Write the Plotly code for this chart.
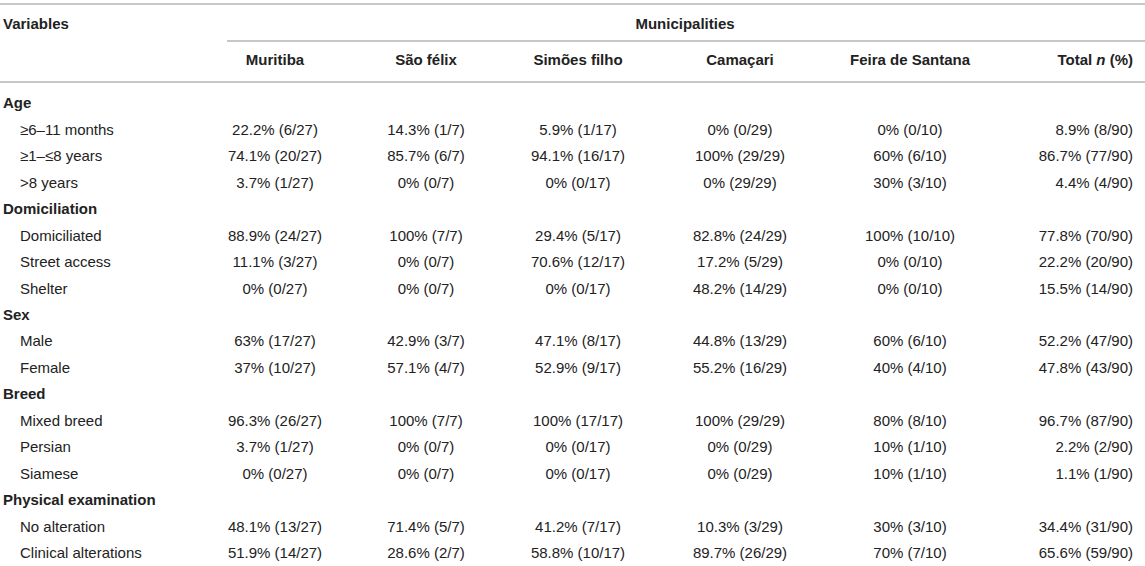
import plotly.graph_objects as go

# table contents
row_labels = ["Age", "≥6–11 months", "≥1–≤8 years", ">8 years",
              "Domiciliation", "Domiciliated", "Street access", "Shelter",
              "Sex", "Male", "Female",
              "Breed", "Mixed breed", "Persian", "Siamese",
              "Physical examination", "No alteration", "Clinical alterations"]
group_rows = ["Age", "Domiciliation", "Sex", "Breed", "Physical examination"]

municipalities = ["Muritiba", "São félix", "Simões filho", "Camaçari",
                  "Feira de Santana"]

muritiba = ["", "22.2% (6/27)", "74.1% (20/27)", "3.7% (1/27)",
            "", "88.9% (24/27)", "11.1% (3/27)", "0% (0/27)",
            "", "63% (17/27)", "37% (10/27)",
            "", "96.3% (26/27)", "3.7% (1/27)", "0% (0/27)",
            "", "48.1% (13/27)", "51.9% (14/27)"]
sao_felix = ["", "14.3% (1/7)", "85.7% (6/7)", "0% (0/7)",
             "", "100% (7/7)", "0% (0/7)", "0% (0/7)",
             "", "42.9% (3/7)", "57.1% (4/7)",
             "", "100% (7/7)", "0% (0/7)", "0% (0/7)",
             "", "71.4% (5/7)", "28.6% (2/7)"]
simoes_filho = ["", "5.9% (1/17)", "94.1% (16/17)", "0% (0/17)",
                "", "29.4% (5/17)", "70.6% (12/17)", "0% (0/17)",
                "", "47.1% (8/17)", "52.9% (9/17)",
                "", "100% (17/17)", "0% (0/17)", "0% (0/17)",
                "", "41.2% (7/17)", "58.8% (10/17)"]
camacari = ["", "0% (0/29)", "100% (29/29)", "0% (29/29)",
            "", "82.8% (24/29)", "17.2% (5/29)", "48.2% (14/29)",
            "", "44.8% (13/29)", "55.2% (16/29)",
            "", "100% (29/29)", "0% (0/29)", "0% (0/29)",
            "", "10.3% (3/29)", "89.7% (26/29)"]
feira = ["", "0% (0/10)", "60% (6/10)", "30% (3/10)",
         "", "100% (10/10)", "0% (0/10)", "0% (0/10)",
         "", "60% (6/10)", "40% (4/10)",
         "", "80% (8/10)", "10% (1/10)", "10% (1/10)",
         "", "30% (3/10)", "70% (7/10)"]
total = ["", "8.9% (8/90)", "86.7% (77/90)", "4.4% (4/90)",
         "", "77.8% (70/90)", "22.2% (20/90)", "15.5% (14/90)",
         "", "52.2% (47/90)", "47.8% (43/90)",
         "", "96.7% (87/90)", "2.2% (2/90)", "1.1% (1/90)",
         "", "34.4% (31/90)", "65.6% (59/90)"]

# layout (pixel units on the axes)
W, H = 1145, 566
FONT = "Liberation Sans, Arial, Helvetica, sans-serif"
TXT = "#222222"
RULE = "#b4b4b4"
col_x = [275, 426, 578, 740, 910]
total_right = 1133
row0, row_step = 104.5, 26.47
rows_y = [row0 + i * row_step for i in range(len(row_labels))]
head1_y, head2_y = 25.5, 61.5

fig = go.Figure()

# left column: bold group names, indented items
grp_y = [y for y, lab in zip(rows_y, row_labels) if lab in group_rows]
grp_t = ["<b>%s</b>" % lab for lab in row_labels if lab in group_rows]
item_y = [y for y, lab in zip(rows_y, row_labels) if lab not in group_rows]
item_t = [lab for lab in row_labels if lab not in group_rows]
fig.add_trace(go.Scatter(x=[3] * len(grp_y), y=grp_y, text=grp_t,
                         mode="text", textposition="middle right"))
fig.add_trace(go.Scatter(x=[20] * len(item_y), y=item_y, text=item_t,
                         mode="text", textposition="middle right"))

# municipality columns
for cx, vals in zip(col_x, [muritiba, sao_felix, simoes_filho, camacari, feira]):
    fig.add_trace(go.Scatter(x=[cx] * len(vals), y=rows_y, text=vals,
                             mode="text", textposition="middle center"))
fig.add_trace(go.Scatter(x=[total_right] * len(total), y=rows_y, text=total,
                         mode="text", textposition="middle left"))

# header
fig.add_trace(go.Scatter(x=[3], y=[head1_y], text=["<b>Variables</b>"],
                         mode="text", textposition="middle right"))
fig.add_trace(go.Scatter(x=[685], y=[head1_y], text=["<b>Municipalities</b>"],
                         mode="text", textposition="middle center"))
fig.add_trace(go.Scatter(x=col_x, y=[head2_y] * len(col_x),
                         text=["<b>%s</b>" % m for m in municipalities],
                         mode="text", textposition="middle center"))
fig.add_trace(go.Scatter(x=[total_right], y=[head2_y],
                         text=["<b>Total <i>n</i> (%)</b>"],
                         mode="text", textposition="middle left"))

fig.update_traces(textfont=dict(family=FONT, size=15, color=TXT),
                  hoverinfo="skip", showlegend=False)

# horizontal rules
for x0, y in [(0, 4), (227, 41), (0, 82)]:
    fig.add_shape(type="line", xref="x", yref="y", x0=x0, x1=W, y0=y, y1=y,
                  line=dict(color=RULE, width=1.6))

fig.update_layout(width=W, height=H, margin=dict(l=0, r=0, t=0, b=0),
                  paper_bgcolor="white", plot_bgcolor="white",
                  xaxis=dict(range=[0, W], visible=False, fixedrange=True),
                  yaxis=dict(range=[H, 0], visible=False, fixedrange=True))

# page body has an 8px default margin, drop it so the figure fills the window
fig.write_html("out.html", config={"displayModeBar": False},
               post_script="document.body.style.margin='0';"
                           "document.body.style.overflow='hidden';")
